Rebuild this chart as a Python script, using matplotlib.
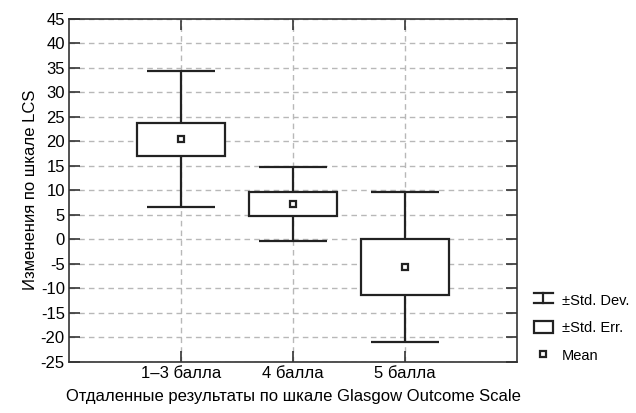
import matplotlib.pyplot as plt
from matplotlib.legend_handler import HandlerBase
from matplotlib.lines import Line2D
from matplotlib.patches import Rectangle

plt.rcParams['font.family'] = ['Liberation Sans', 'DejaVu Sans']
plt.rcParams['axes.unicode_minus'] = False

categories = ['1–3 балла', '4 балла', '5 балла']
means = [20.4, 7.2, -5.7]
std_err = [3.4, 2.4, 5.7]
std_dev = [13.9, 7.6, 15.3]

yticks = list(range(-25, 50, 5))

fig = plt.figure(figsize=(6.36, 4.13), dpi=100)
ax = fig.add_axes([0.1085, 0.1235, 0.7045, 0.8315])

pos = [1, 2, 3]
dark = '#222222'
for x, m, se, sd in zip(pos, means, std_err, std_dev):
    ax.vlines(x, m - sd, m + sd, color=dark, lw=1.6, zorder=3)
    ax.hlines([m - sd, m + sd], x - 0.3, x + 0.3, color=dark, lw=1.6, zorder=3)
ax.bar(pos, [2 * s for s in std_err], bottom=[m - s for m, s in zip(means, std_err)],
       width=0.79, facecolor='white', edgecolor=dark, linewidth=1.6, zorder=4)
ax.plot(pos, means, 's', ms=5, mfc='white', mec=dark, mew=1.6, zorder=5)

ax.set_xlim(0, 4)
ax.set_ylim(-25, 45)
ax.set_xticks(pos)
ax.set_xticklabels(categories)
ax.set_yticks(yticks)
ax.grid(True, ls=(0, (4, 3)), color='#b8b8b8', lw=1)
ax.set_axisbelow(True)
ax.tick_params(direction='in', length=8, width=1.2, top=True, right=True,
               labelsize=12, color='#333333', pad=3)
for s in ax.spines.values():
    s.set_color('#333333')
    s.set_linewidth(1.2)

ax.set_xlabel('Отдаленные результаты по шкале Glasgow Outcome Scale', fontsize=12, labelpad=6)
ax.set_ylabel('Изменения по шкале LCS', fontsize=12, labelpad=2)


class WhiskerHandler(HandlerBase):
    def create_artists(self, legend, orig, xd, yd, w, h, fs, trans):
        x0, x1 = xd, xd + w
        xm = xd + w / 2
        y0, y1 = yd + 0.1 * h, yd + 0.9 * h
        lines = [Line2D([x0, x1], [y1, y1]),
                 Line2D([x0, x1], [y0, y0]),
                 Line2D([xm, xm], [y0, y1])]
        for ln in lines:
            ln.set_color(dark)
            ln.set_linewidth(1.6)
            ln.set_transform(trans)
        return lines


sd_handle = Line2D([], [])
se_handle = Rectangle((0, 0), 1, 1, facecolor='white', edgecolor=dark, linewidth=1.6)
mean_handle = Line2D([], [], ls='', marker='s', ms=5, mfc='white', mec=dark, mew=1.6)
fig.legend([sd_handle, se_handle, mean_handle], ['±Std. Dev.', '±Std. Err.', 'Mean'],
           handler_map={sd_handle: WhiskerHandler()},
           loc='lower left', bbox_to_anchor=(0.835, 0.115), frameon=False,
           fontsize=10.5, handlelength=1.3, handleheight=0.9, handletextpad=0.6,
           labelspacing=0.9, borderpad=0.2, borderaxespad=0)

fig.savefig('out.png', dpi=100)
